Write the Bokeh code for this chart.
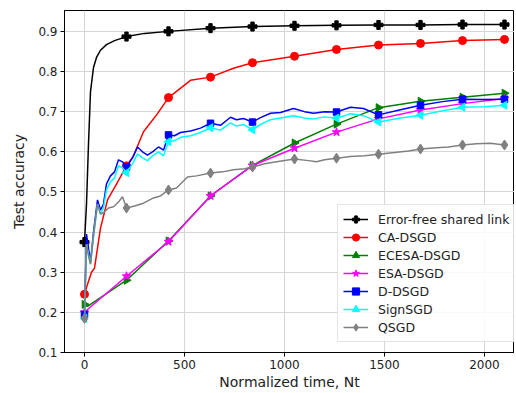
import math
from bokeh.plotting import figure
from bokeh.models import Legend, LegendItem, Range1d, FixedTicker
from bokeh.embed import file_html
from bokeh.resources import INLINE

MARK_X = [0, 210, 420, 630, 840, 1050, 1260, 1470, 1680, 1890, 2100]

x_black = [0, 10, 20, 30, 45, 60, 80, 110, 150, 210, 300, 420, 630, 840, 1050, 1260, 1470, 1680, 1890, 2100]
y_black = [0.375, 0.47, 0.62, 0.75, 0.81, 0.835, 0.853, 0.867, 0.877, 0.887, 0.895, 0.900, 0.908, 0.912,
           0.914, 0.915, 0.916, 0.916, 0.917, 0.917]

x_red = [0, 15, 35, 50, 80, 115, 155, 210, 245, 295, 365, 420, 530, 630, 745, 840, 1050, 1260, 1470, 1680, 1890, 2100]
y_red = [0.245, 0.27, 0.30, 0.31, 0.41, 0.48, 0.515, 0.565, 0.59, 0.65, 0.695, 0.735, 0.778, 0.786, 0.808,
         0.822, 0.838, 0.855, 0.866, 0.870, 0.877, 0.880]

x_green = [0, 15, 210, 420, 630, 840, 1050, 1260, 1470, 1680, 1890, 2100]
y_green = [0.22, 0.215, 0.28, 0.378, 0.49, 0.566, 0.622, 0.669, 0.71, 0.726, 0.736, 0.746]

x_mag = [0, 15, 210, 420, 630, 840, 1050, 1260, 1470, 1680, 1890, 2100]
y_mag = [0.20, 0.207, 0.29, 0.376, 0.49, 0.566, 0.609, 0.649, 0.682, 0.704, 0.72, 0.733]

x_blue = [0, 5, 10, 20, 30, 45, 65, 80, 95, 110, 130, 150, 170, 190, 210, 240, 265, 290, 315, 340, 370, 395,
          420, 450, 480, 530, 580, 630, 680, 730, 760, 795, 840, 880, 930, 980, 1045, 1100, 1145, 1200, 1260,
          1300, 1330, 1395, 1470, 1580, 1680, 1790, 1890, 2000, 2100]
y_blue = [0.195, 0.30, 0.395, 0.36, 0.325, 0.40, 0.48, 0.455, 0.47, 0.52, 0.54, 0.55, 0.58, 0.575, 0.562,
          0.585, 0.612, 0.60, 0.592, 0.60, 0.612, 0.604, 0.642, 0.64, 0.648, 0.652, 0.659, 0.671, 0.666, 0.686,
          0.68, 0.683, 0.674, 0.685, 0.696, 0.698, 0.708, 0.700, 0.696, 0.700, 0.699, 0.706, 0.711, 0.708,
          0.692, 0.705, 0.716, 0.725, 0.731, 0.73, 0.731]

x_cyan = x_blue
y_cyan = [0.185, 0.28, 0.37, 0.345, 0.32, 0.39, 0.47, 0.445, 0.46, 0.505, 0.525, 0.535, 0.565, 0.56, 0.548,
          0.57, 0.595, 0.585, 0.578, 0.59, 0.6, 0.59, 0.625, 0.628, 0.636, 0.64, 0.648, 0.66, 0.654, 0.672,
          0.664, 0.668, 0.655, 0.668, 0.68, 0.684, 0.69, 0.684, 0.682, 0.687, 0.684, 0.69, 0.695, 0.69,
          0.674, 0.684, 0.691, 0.702, 0.711, 0.712, 0.716]

x_grey = [0, 5, 10, 20, 30, 45, 65, 80, 95, 120, 145, 170, 190, 210, 250, 295, 345, 380, 420, 460, 515, 560,
          630, 690, 745, 800, 840, 900, 960, 1050, 1120, 1160, 1200, 1260, 1330, 1400, 1470, 1550, 1620, 1680,
          1760, 1820, 1890, 1960, 2030, 2100]
y_grey = [0.185, 0.28, 0.37, 0.34, 0.32, 0.39, 0.47, 0.445, 0.448, 0.46, 0.463, 0.475, 0.488, 0.46, 0.465,
          0.472, 0.485, 0.49, 0.505, 0.51, 0.537, 0.54, 0.547, 0.55, 0.555, 0.558, 0.562, 0.57, 0.575, 0.582,
          0.578, 0.575, 0.58, 0.584, 0.588, 0.59, 0.594, 0.598, 0.602, 0.607, 0.61, 0.612, 0.617, 0.62, 0.621,
          0.617]

labels = ["Error-free shared link", "CA-DSGD", "ECESA-DSGD", "ESA-DSGD", "D-DSGD", "SignSGD", "QSGD"]
x_ticks = [0, 500, 1000, 1500, 2000]
y_ticks = [0.1, 0.2, 0.3, 0.4, 0.5, 0.6, 0.7, 0.8, 0.9]

series = [
    (x_black, y_black, "black", "plus", 9, 0.0),
    (x_red, y_red, "red", "circle", 8, 0.0),
    (x_green, y_green, "green", "triangle", 8, -math.pi / 2),
    (x_mag, y_mag, "magenta", "star", 9, 0.0),
    (x_blue, y_blue, "blue", "square", 6.5, 0.0),
    (x_cyan, y_cyan, "cyan", "triangle", 8, math.pi / 2),
    (x_grey, y_grey, "gray", "diamond", 10, 0.0),
]

FONT = "DejaVu Sans"

p = figure(width=514, height=392, output_backend="svg", toolbar_location=None,
           x_range=Range1d(-100, 2150), y_range=Range1d(0.1, 0.952),
           min_border_left=64, min_border_right=0, min_border_top=10, min_border_bottom=39)
p.background_fill_color = "white"
p.border_fill_color = "white"
p.outline_line_color = "black"
p.outline_line_width = 1

for ax in (p.xaxis[0], p.yaxis[0]):
    ax.major_label_text_font = FONT
    ax.major_label_text_font_size = "12px"
    ax.major_label_text_color = "#222222"
    ax.axis_label_text_font = FONT
    ax.axis_label_text_font_size = "14px"
    ax.axis_label_text_font_style = "normal"
    ax.axis_label_text_color = "#222222"
    ax.minor_tick_line_color = None
    ax.major_tick_in = 0
    ax.major_tick_out = 4
    ax.major_tick_line_color = "black"
    ax.axis_line_color = "black"
    ax.major_label_standoff = 3

p.xaxis.ticker = FixedTicker(ticks=x_ticks)
p.yaxis.ticker = FixedTicker(ticks=y_ticks)
p.yaxis.major_label_overrides = {t: f"{t:.1f}" for t in y_ticks}
p.xaxis.axis_label = "Normalized time, Nt"
p.yaxis.axis_label = "Test accuracy"
p.xaxis.axis_label_standoff = 2
p.yaxis.axis_label_standoff = 8

p.grid.grid_line_color = "#d6d6d6"
p.grid.grid_line_width = 1

items = []
for (xs, ys, col, mk, sz, ang), lab in zip(series, labels):
    lr = p.line(xs, ys, line_color=col, line_width=1.5)
    mx = [x for x in xs if x in MARK_X]
    my = [y for x, y in zip(xs, ys) if x in MARK_X]
    sr = p.scatter(mx, my, marker=mk, size=sz, angle=ang, fill_color=col, line_color=col)
    items.append(LegendItem(label=lab, renderers=[lr, sr]))

legend = Legend(items=items, location=(273, 10), label_text_font=FONT,
                label_text_font_size="12.5px", label_text_color="#222222",
                glyph_width=25, glyph_height=18, label_height=18, spacing=0,
                label_standoff=10, padding=5, margin=0,
                border_line_color="#cccccc", background_fill_color="white",
                background_fill_alpha=0.85)
p.add_layout(legend, "center")

open("out.html", "w").write(file_html(p, INLINE))
